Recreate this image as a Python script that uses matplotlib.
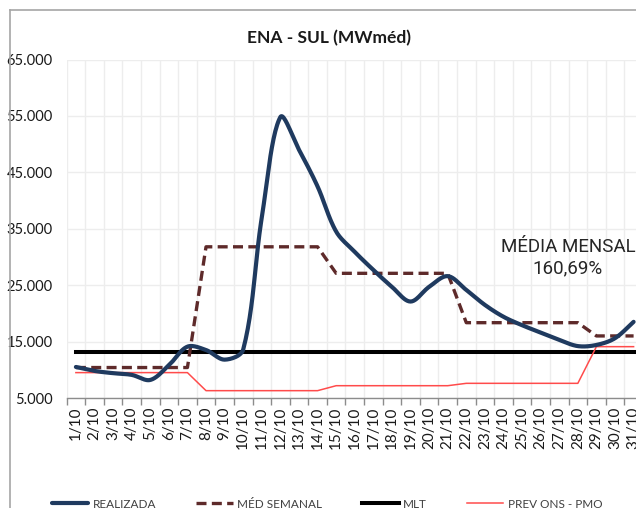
import numpy as np
import matplotlib
matplotlib.use("Agg")
import matplotlib.pyplot as plt
from matplotlib.lines import Line2D
from matplotlib.ticker import FixedLocator, FuncFormatter

# ---------------- data ----------------
days = [f"{d}/10" for d in range(1, 32)]
realizada = [10500, 9800, 9400, 9100, 8200, 10800, 14100, 13500, 11800, 13600,
             37000, 54800, 49000, 42500, 34500, 30900, 27700, 24700, 22100, 24700,
             26600, 24150, 21500, 19400, 17900, 16600, 15300, 14200, 14400, 15600, 18500]
med_semanal = [10400] * 7 + [31800] * 7 + [27100] * 7 + [18350] * 7 + [16000] * 3
mlt = [13200] * 31
prev_ons = [9500] * 7 + [6300] * 7 + [7180] * 7 + [7600] * 7 + [14100] * 3
yticks = [5000, 15000, 25000, 35000, 45000, 55000, 65000]
title = "ENA - SUL (MWméd)"
annot = "MÉDIA MENSAL\n160,69%"

plt.rcParams["font.family"] = ["Lato", "DejaVu Sans"]


def smooth_display(ax, xs, ys, n=24):
    """Excel-like smoothed line: Bezier with chord-length scaled tangents, in screen space."""
    pts = ax.transData.transform(np.column_stack([xs, ys]).astype(float))
    m = len(pts)
    seglen = np.linalg.norm(np.diff(pts, axis=0), axis=1)
    out = []
    for i in range(m - 1):
        p1, p2 = pts[i], pts[i + 1]
        L = seglen[i]
        if i > 0:
            d1 = pts[i + 1] - pts[i - 1]
            c1 = p1 + d1 / 3.0 * L / (seglen[i - 1] + L)
        else:
            c1 = p1 + (p2 - p1) / 3.0
        if i + 2 < m:
            d2 = pts[i + 2] - pts[i]
            c2 = p2 - d2 / 3.0 * L / (L + seglen[i + 1])
        else:
            c2 = p2 - (p2 - p1) / 3.0
        t = np.linspace(0, 1, n, endpoint=(i == m - 2))[:, None]
        seg = ((1 - t) ** 3) * p1 + 3 * ((1 - t) ** 2) * t * c1 + 3 * (1 - t) * t ** 2 * c2 + t ** 3 * p2
        out.append(seg)
    out = np.vstack(out)
    data = ax.transData.inverted().transform(out)
    return data[:, 0], data[:, 1]


W, H = 636, 508
fig = plt.figure(figsize=(W / 100, H / 100), dpi=100)
fig.patch.set_facecolor("white")

left_px, right_px = 66.6, 66.6 + 31 * 18.59
top_px, bot_px = 59.5, 398
ax = fig.add_axes([left_px / W, 1 - bot_px / H, (right_px - left_px) / W, (bot_px - top_px) / H])

x = np.arange(len(days))
ax.set_xlim(-0.5, len(days) - 0.5)
ax.set_ylim(5000, 65000)

grid_c = "#EDEDED"
for yv in yticks:
    ax.axhline(yv, color=grid_c, lw=1, zorder=0)
for b in np.arange(-0.5, len(days) + 0.5, 1):
    ax.axvline(b, color=grid_c, lw=1, zorder=0)

sx, sy = smooth_display(ax, x, realizada)
ax.plot(sx, sy, color="#1F3A5F", lw=3.0, solid_capstyle="round", zorder=5, label="REALIZADA")
ax.plot(x, med_semanal, color="#5E2A2A", lw=2.4, ls=(0, (3, 1.6)), zorder=4, label="MÉD SEMANAL")
ax.plot(x, mlt, color="black", lw=2.9, zorder=3, label="MLT")
ax.plot(x, prev_ons, color="#FF4B4B", lw=1.1, zorder=3, label="PREV ONS - PMO")

ax.set_yticks(yticks)
ax.yaxis.set_major_formatter(FuncFormatter(lambda v, p: f"{int(v):,}".replace(",", ".")))
ax.tick_params(axis="y", length=0, pad=10, labelsize=10.5, labelcolor="#1A1A1A")

ax.set_xticks(x)
ax.set_xticklabels(days, rotation=90, fontsize=11, color="#1A1A1A")
ax.tick_params(axis="x", which="major", length=0, pad=6)
ax.xaxis.set_minor_locator(FixedLocator(np.arange(-0.5, len(days) + 0.5, 1)))
ax.tick_params(axis="x", which="minor", length=5, color="#8C8C8C", width=1)

for s in ["top", "right", "left"]:
    ax.spines[s].set_visible(False)
ax.spines["bottom"].set_color("#8C8C8C")
ax.spines["bottom"].set_linewidth(1)

ax.set_title(title, fontsize=12.5, fontweight="bold", color="#1A1A1A",
             x=(329 - left_px) / (right_px - left_px), y=1.0, pad=12)

fig.text(568 / W, 1 - 258 / H, annot, ha="center", va="center", fontsize=13.5,
         color="#262626", linespacing=1.25, family=["Roboto", "DejaVu Sans"])

# chart border
fig.add_artist(Line2D([10 / W, 10 / W], [1 - 10 / H, 0], transform=fig.transFigure, color="#A6A6A6", lw=1.2))
fig.add_artist(Line2D([10 / W, 1], [1 - 10 / H, 1 - 10 / H], transform=fig.transFigure, color="#A6A6A6", lw=1.2))

handles, labels = ax.get_legend_handles_labels()
fig.legend(handles, labels, loc="center", bbox_to_anchor=(327 / W, 1 - 504 / H), ncol=4, frameon=False,
           fontsize=8.5, handlelength=3.1, handletextpad=0.35, columnspacing=3.4, labelcolor="#404040",
           borderpad=0, borderaxespad=0)

fig.savefig("out.png", dpi=100, facecolor="white")
